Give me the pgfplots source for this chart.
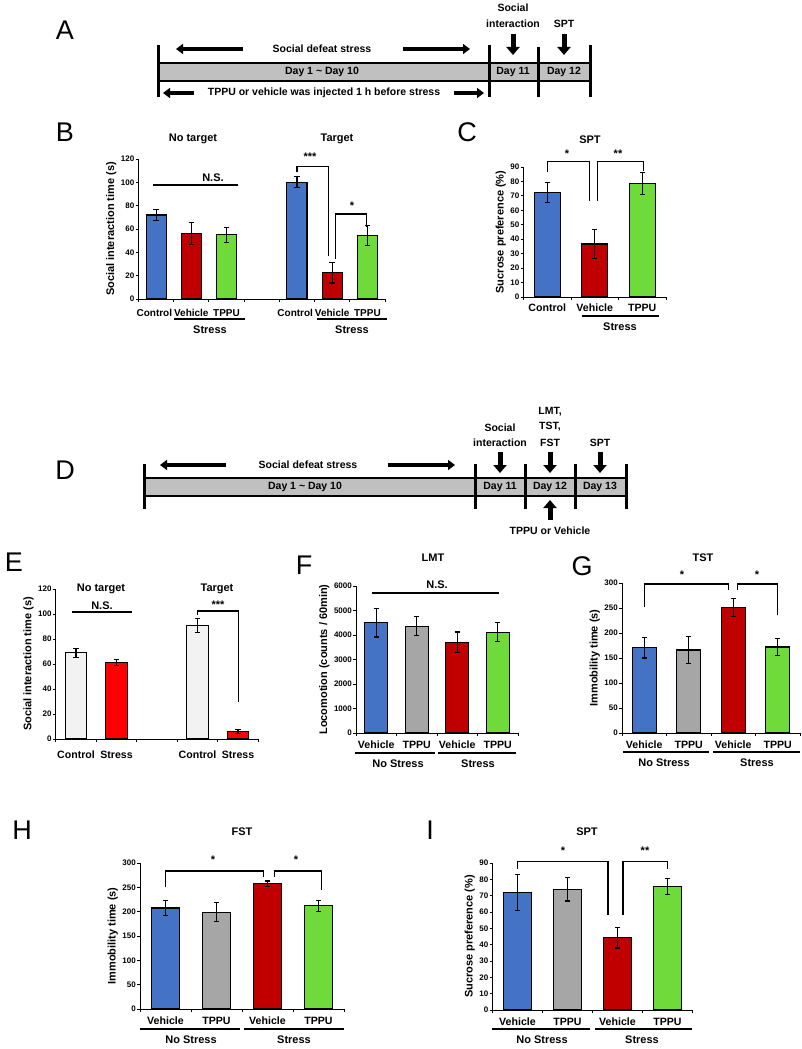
\documentclass[border=0pt]{standalone}
\usepackage{fontspec}
\setmainfont{Liberation Sans}
\usepackage{pgfplots}
\pgfplotsset{compat=1.18}
\usetikzlibrary{arrows.meta}
\newcommand{\fs}[1]{\fontsize{#1}{#1}\selectfont}
\definecolor{cblue}{HTML}{4472C4}
\definecolor{cred}{HTML}{C00000}
\definecolor{cgreen}{HTML}{6FDB3B}
\definecolor{cgray}{HTML}{A6A6A6}
\definecolor{clight}{HTML}{F2F2F2}
\definecolor{cbright}{HTML}{FF0000}
\definecolor{tgray}{HTML}{C0C0C0}
\pgfplotsset{
 panel/.style={
  scale only axis, anchor=south west, clip=false,
  axis x line*=bottom, axis y line*=left,
  axis line style={line width=1pt},
  ymin=0, tick align=outside, major tick length=3pt,
  every tick/.style={black, line width=1pt},
  xticklabels={},
  /pgf/number format/assume math mode=true,
  /pgf/number format/1000 sep={},
  yticklabel style={font=\bfseries\fs{8}, inner sep=1pt},
  ylabel style={font=\bfseries\fs{11}},
 },
 lab/.style 2 args={extra x tick style={major tick length=0pt, xticklabel style={font=\bfseries\fs{#2}, anchor=base, yshift=#1, inner sep=0pt}}},
 eb/.style={ybar, bar shift=0pt, draw=black, line width=1.1pt, fill=#1,
   error bars/.cd, y dir=both, y explicit,
   error bar style={line width=1.2pt, black, solid},
   error mark options={rotate=90, mark size=2.7pt, line width=1.2pt, black}}
}
\tikzset{
 fat/.style={line width=3.5pt, -{Triangle[length=7pt, width=10pt]}},
 blk/.style={line width=5pt, -{Triangle[length=8pt, width=13pt]}},
 bar/.style={line width=3pt},
 br/.style={line width=1.1pt},
 tx/.style={font=\bfseries\fs{11}},
 tt/.style={font=\bfseries\fs{10.5}},
 let/.style={font=\fs{27}}
}
\begin{document}
\begin{tikzpicture}[x=1pt,y=1pt]
\path[use as bounding box] (0,0) rectangle (802,-1049);
% panel letters
\node[let] at (65,-30) {A};
\node[let] at (65,-132) {B};
\node[let] at (467,-132) {C};
\node[let] at (65,-470) {D};
\node[let] at (14,-562) {E};
\node[let] at (304,-565) {F};
\node[let] at (582,-566) {G};
\node[let] at (22,-830) {H};
\node[let] at (430,-830) {I};
% ---------- timeline A
\fill[tgray] (158,-63) rectangle (590,-81);
\draw[line width=1.2pt] (158,-63) rectangle (590,-81);
\foreach \xx in {158,489,590} {\draw[bar] (\xx,-45) -- (\xx,-97);}
\draw[bar] (538,-47) -- (538,-97);
\node[tt] at (322,-49) {Social defeat stress};
\draw[fat] (243,-49) -- (176,-49);
\draw[fat] (403,-49) -- (470,-49);
\node[tt] at (322,-72) {Day 1 \textasciitilde{} Day 10};
\node[tt] at (513,-72) {Day 11};
\node[tt] at (564,-72) {Day 12};
\node[tt] at (324,-93) {TPPU or vehicle was injected 1 h before stress};
\draw[fat] (194,-93) -- (163,-93);
\draw[fat] (454,-93) -- (484,-93);
\node[tt] at (513,-8) {Social};
\node[tt] at (513,-24) {interaction};
\node[tt] at (564,-24) {SPT};
\draw[blk] (513,-34) -- (513,-55);
\draw[blk] (564,-34) -- (564,-55);
% ---------- timeline D
\fill[tgray] (144,-478) rectangle (626,-496);
\draw[line width=1.2pt] (144,-478) rectangle (626,-496);
\foreach \xx in {144,475,525,575,626} {\draw[bar] (\xx,-464) -- (\xx,-509);}
\node[tt] at (308,-465) {Social defeat stress};
\draw[fat] (226,-465) -- (160,-465);
\draw[fat] (388,-465) -- (455,-465);
\node[tt] at (305,-487) {Day 1 \textasciitilde{} Day 10};
\node[tt] at (500,-487) {Day 11};
\node[tt] at (550,-487) {Day 12};
\node[tt] at (600,-487) {Day 13};
\node[tt] at (500,-428) {Social};
\node[tt] at (500,-443) {interaction};
\node[tt] at (550,-412) {LMT,};
\node[tt] at (550,-427) {TST,};
\node[tt] at (550,-443) {FST};
\node[tt] at (600,-443) {SPT};
\foreach \xx in {500,550,600} {\draw[blk] (\xx,-452) -- (\xx,-473);}
\draw[blk] (550,-520) -- (550,-500);
\node[tt] at (550,-531) {TPPU or Vehicle};
% ---------- B
\begin{axis}[panel, at={(138.5pt,-299pt)}, width=246.5pt, height=140pt,
 xmin=-0.5, xmax=6.5, ymax=120, ytick={0,20,...,120}, bar width=0.57,
 xtick={-0.5,0.5,...,6.5},
 extra x ticks={-0.05,1,2,3.95,5,6}, extra x tick labels={Control,Vehicle,TPPU,Control,Vehicle,TPPU},
 lab={-17pt}{10}, ylabel={Social interaction time (s)}]
\addplot[eb=cblue] coordinates {(0,72) +- (0,4.6) (4,100) +- (0,4.7)};
\addplot[eb=cred] coordinates {(1,56) +- (0,9.5) (5,22.5) +- (0,8.8)};
\addplot[eb=cgreen] coordinates {(2,55) +- (0,6.6) (6,54.5) +- (0,8.3)};
\draw[br] (-0.08,97.7) -- (2.32,97.7);
\draw[br] (4,108.6) -- (4,113.4) -- (4.9,113.4) -- (4.9,36.9);
\draw[br] (5.1,34.3) -- (5.1,72.9) -- (5.98,72.9) -- (5.98,61.7);
\end{axis}
\node[tx] at (193,-139) {No target};
\node[tx] at (337,-139) {Target};
\node[tx] at (213,-178) {N.S.};
\node[tx] at (310,-157) {***};
\node[tx] at (352,-206) {*};
\draw[br] (174,-319) -- (245,-319);
\draw[br] (317,-319) -- (387,-319);
\node[tx] at (210,-330) {Stress};
\node[tx] at (352,-330) {Stress};
% ---------- C
\begin{axis}[panel, at={(523.5pt,-297pt)}, width=142.5pt, height=130pt,
 xmin=-0.5, xmax=2.5, ymax=90, ytick={0,10,...,90}, bar width=0.55,
 xtick={-0.5,0.5,1.5,2.5},
 extra x ticks={0,1,2}, extra x tick labels={Control,Vehicle,TPPU},
 lab={-14pt}{10.6}, ylabel={Sucrose preference (\%)}]
\addplot[eb=cblue] coordinates {(0,72.5) +- (0,6.9)};
\addplot[eb=cred] coordinates {(1,36.7) +- (0,10.1)};
\addplot[eb=cgreen] coordinates {(2,78.5) +- (0,7.6)};
\draw[br] (0,86.5) -- (0,93.5) -- (0.88,93.5) -- (0.88,66.5);
\draw[br] (1.05,66.5) -- (1.05,93.5) -- (2.02,93.5) -- (2.02,87.2);
\end{axis}
\node[tx] at (590,-140) {SPT};
\node[tx] at (567,-154) {*};
\node[tx] at (618,-154) {**};
\draw[br] (582,-316) -- (659,-316);
\node[tx] at (620,-327) {Stress};
% ---------- E
\begin{axis}[panel, at={(55.75pt,-739pt)}, width=202.5pt, height=150pt,
 xmin=-0.5, xmax=4.5, ymax=120, ytick={0,20,...,120}, bar width=0.54,
 xtick={-0.5,0.5,...,4.5},
 extra x ticks={0,1,3,4}, extra x tick labels={Control,Stress,Control,Stress},
 lab={-19pt}{10.6}, ylabel={Social interaction time (s)}]
\addplot[eb=clight] coordinates {(0,69) +- (0,3.6) (3,90.7) +- (0,5.6)};
\addplot[eb=cbright] coordinates {(1,61) +- (0,2.3) (4,6) +- (0,1.5)};
\draw[br] (-0.1,101.6) -- (1.38,101.6);
\draw[br] (3,99.2) -- (3,102.4) -- (4.02,102.4) -- (4.02,29.6);
\end{axis}
\node[tx] at (101,-589) {No target};
\node[tx] at (217,-589) {Target};
\node[tx] at (102,-606) {N.S.};
\node[tx] at (218,-605) {***};
% ---------- F
\begin{axis}[panel, at={(356pt,-733pt)}, width=162pt, height=147pt,
 xmin=-0.5, xmax=3.5, ymax=6000, ytick={0,1000,...,6000}, bar width=0.56,
 xtick={-0.5,0.5,...,3.5},
 extra x ticks={0,1,2,3}, extra x tick labels={Vehicle,TPPU,Vehicle,TPPU},
 lab={-15pt}{10.6}, ylabel={Locomotion (counts / 60min)}]
\addplot[eb=cblue] coordinates {(0,4497) +- (0,575)};
\addplot[eb=cgray] coordinates {(1,4361) +- (0,385)};
\addplot[eb=cred] coordinates {(2,3698) +- (0,427)};
\addplot[eb=cgreen] coordinates {(3,4117) +- (0,380)};
\draw[br] (-0.11,5714) -- (3.02,5714);
\end{axis}
\node[tx] at (433,-558) {LMT};
\node[tx] at (437,-585) {N.S.};
\draw[br] (355,-753) -- (435,-753);
\draw[br] (438,-753) -- (516,-753);
\node[tx] at (398,-764) {No Stress};
\node[tx] at (478,-764) {Stress};
% ---------- G
\begin{axis}[panel, at={(622pt,-733pt)}, width=178pt, height=150pt,
 xmin=-0.5, xmax=3.5, ymax=300, ytick={0,50,...,300}, bar width=0.54,
 xtick={-0.5,0.5,...,3.5},
 extra x ticks={0,1,2,3}, extra x tick labels={Vehicle,TPPU,Vehicle,TPPU},
 lab={-15pt}{10.6}, ylabel={Immobility time (s)}]
\addplot[eb=cblue] coordinates {(0,170.8) +- (0,20.7)};
\addplot[eb=cgray] coordinates {(1,166) +- (0,26.5)};
\addplot[eb=cred] coordinates {(2,250.5) +- (0,17.8)};
\addplot[eb=cgreen] coordinates {(3,172) +- (0,16.7)};
\draw[br] (0,252) -- (0,298) -- (1.89,298) -- (1.89,286);
\draw[br] (2.09,286) -- (2.09,298) -- (2.99,298) -- (2.99,236);
\end{axis}
\node[tx] at (703,-558) {TST};
\node[tx] at (682,-575) {*};
\node[tx] at (757,-575) {*};
\draw[br] (623,-752) -- (709,-752);
\draw[br] (713,-752) -- (800,-752);
\node[tx] at (664,-763) {No Stress};
\node[tx] at (757,-763) {Stress};
% ---------- H
\begin{axis}[panel, at={(140pt,-1009pt)}, width=204pt, height=146pt,
 xmin=-0.5, xmax=3.5, ymax=300, ytick={0,50,...,300}, bar width=0.55,
 xtick={-0.5,0.5,...,3.5},
 extra x ticks={0,1,2,3}, extra x tick labels={Vehicle,TPPU,Vehicle,TPPU},
 lab={-15pt}{10.6}, ylabel={Immobility time (s)}]
\addplot[eb=cblue] coordinates {(0,207.5) +- (0,16)};
\addplot[eb=cgray] coordinates {(1,199) +- (0,19.5)};
\addplot[eb=cred] coordinates {(2,257.5) +- (0,5.5)};
\addplot[eb=cgreen] coordinates {(3,212) +- (0,11)};
\draw[br] (0,250.7) -- (0,283.5) -- (1.93,283.5) -- (1.93,271);
\draw[br] (2.13,271) -- (2.13,283.5) -- (3.05,283.5) -- (3.05,244.5);
\end{axis}
\node[tx] at (242,-832) {FST};
\node[tx] at (213,-860) {*};
\node[tx] at (296,-860) {*};
\draw[br] (140,-1029) -- (240,-1029);
\draw[br] (244,-1029) -- (344,-1029);
\node[tx] at (191,-1040) {No Stress};
\node[tx] at (294,-1040) {Stress};
% ---------- I
\begin{axis}[panel, at={(492.5pt,-1010pt)}, width=200pt, height=147pt,
 xmin=-0.5, xmax=3.5, ymax=90, ytick={0,10,...,90}, bar width=0.56,
 xtick={-0.5,0.5,...,3.5},
 extra x ticks={0,1,2,3}, extra x tick labels={Vehicle,TPPU,Vehicle,TPPU},
 lab={-15pt}{10.6}, ylabel={Sucrose preference (\%)}]
\addplot[eb=cblue] coordinates {(0,72) +- (0,11)};
\addplot[eb=cgray] coordinates {(1,74) +- (0,7.3)};
\addplot[eb=cred] coordinates {(2,44.2) +- (0,6.2)};
\addplot[eb=cgreen] coordinates {(3,75.5) +- (0,4.8)};
\draw[br] (0,86.3) -- (0,91.2) -- (1.81,91.2) -- (1.81,58.2);
\draw[br] (2.11,58.2) -- (2.11,91.2) -- (3,91.2) -- (3,86.3);
\end{axis}
\node[tx] at (587,-832) {SPT};
\node[tx] at (563,-851) {*};
\node[tx] at (645,-851) {**};
\draw[br] (492,-1029) -- (590,-1029);
\draw[br] (595,-1029) -- (692,-1029);
\node[tx] at (542,-1040) {No Stress};
\node[tx] at (642,-1040) {Stress};
\end{tikzpicture}
\end{document}
